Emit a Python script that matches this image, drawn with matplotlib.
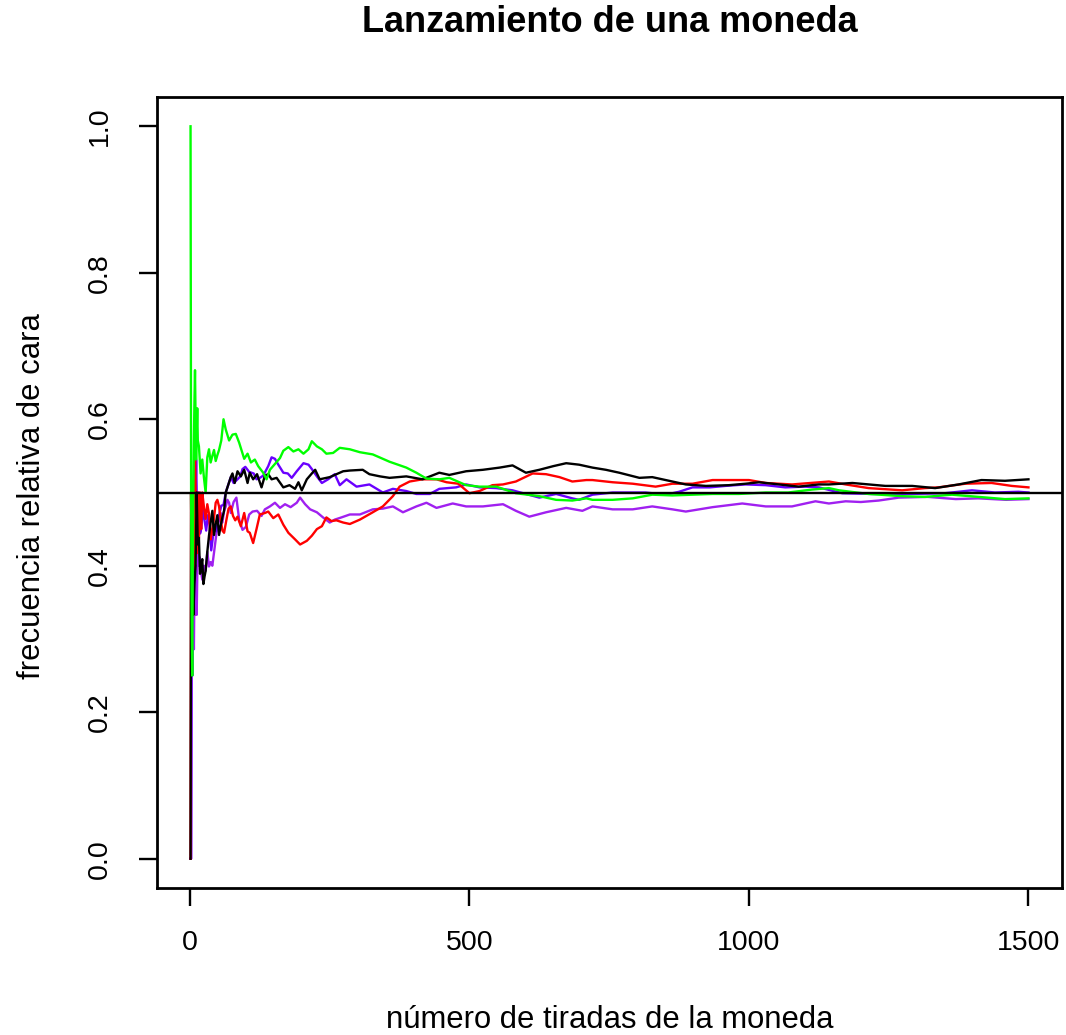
import matplotlib
matplotlib.use("Agg")
import matplotlib.pyplot as plt

plt.rcParams['font.family'] = ['Liberation Sans', 'DejaVu Sans']

# valores (tirada, frecuencia relativa de cara)
negro_x = [1, 2, 3, 4, 5, 6, 8, 10, 12, 14, 16, 18, 20, 22, 24, 26, 28, 31, 34, 37, 40, 43, 46, 49, 52, 55, 58, 61, 64, 67,
           70, 73, 76, 80, 85, 91, 97, 103, 107, 113, 120, 128, 134, 140, 146, 155, 167, 178, 188, 194, 200, 209, 218, 224,
           232, 250, 262, 274, 286, 309, 321, 340, 357, 387, 416, 446, 464, 494, 524, 554, 577, 601, 625, 650, 673, 696,
           720, 744, 768, 804, 827, 863, 887, 923, 964, 994, 1018, 1054, 1089, 1125, 1143, 1185, 1244, 1292, 1333, 1375,
           1416, 1458, 1500]
negro_y = [0.0, 0.5, 0.333, 0.5, 0.4, 0.333, 0.375, 0.4, 0.5, 0.429, 0.438, 0.389, 0.4, 0.409, 0.375, 0.385, 0.393, 0.419,
           0.441, 0.459, 0.475, 0.442, 0.457, 0.469, 0.442, 0.455, 0.466, 0.475, 0.5, 0.507, 0.514, 0.521, 0.526, 0.513,
           0.529, 0.522, 0.531, 0.513, 0.527, 0.518, 0.525, 0.507, 0.523, 0.525, 0.518, 0.52, 0.507, 0.51, 0.505, 0.514,
           0.503, 0.518, 0.526, 0.531, 0.518, 0.521, 0.525, 0.529, 0.530, 0.531, 0.525, 0.522, 0.520, 0.522, 0.518, 0.527,
           0.524, 0.529, 0.531, 0.534, 0.537, 0.527, 0.531, 0.536, 0.540, 0.538, 0.534, 0.531, 0.527, 0.520, 0.521, 0.515,
           0.511, 0.509, 0.510, 0.512, 0.514, 0.511, 0.508, 0.511, 0.511, 0.513, 0.509, 0.509, 0.506, 0.511, 0.517, 0.516,
           0.518]

rojo_x = [1, 2, 3, 4, 5, 6, 7, 8, 9, 10, 11, 12, 13, 14, 15, 16, 18, 20, 22, 25, 28, 31, 34, 37, 40, 43, 46, 49, 52, 55,
          58, 61, 65, 69, 73, 77, 81, 85, 91, 97, 103, 107, 113, 119, 125, 134, 140, 149, 158, 167, 176, 188, 197, 209,
          218, 227, 236, 244, 253, 262, 274, 286, 304, 327, 345, 363, 375, 393, 416, 441, 459, 480, 500, 518, 541, 560,
          583, 613, 637, 661, 684, 709, 720, 756, 792, 833, 863, 899, 935, 970, 1000, 1030, 1077, 1110, 1143, 1173, 1214,
          1274, 1315, 1339, 1387, 1434, 1470, 1500]
rojo_y = [0.0, 0.5, 0.333, 0.5, 0.4, 0.333, 0.429, 0.5, 0.556, 0.5, 0.455, 0.417, 0.462, 0.5, 0.467, 0.438, 0.5, 0.45,
          0.5, 0.48, 0.464, 0.484, 0.471, 0.436, 0.45, 0.465, 0.486, 0.49, 0.481, 0.463, 0.448, 0.445, 0.462, 0.478, 0.481,
          0.468, 0.462, 0.467, 0.454, 0.472, 0.447, 0.445, 0.431, 0.45, 0.47, 0.472, 0.474, 0.465, 0.47, 0.456, 0.445,
          0.436, 0.429, 0.434, 0.441, 0.45, 0.454, 0.466, 0.461, 0.462, 0.459, 0.457, 0.463, 0.473, 0.481, 0.495, 0.508,
          0.515, 0.518, 0.518, 0.514, 0.512, 0.499, 0.502, 0.510, 0.511, 0.515, 0.526, 0.525, 0.521, 0.515, 0.517, 0.517,
          0.514, 0.512, 0.508, 0.512, 0.512, 0.517, 0.517, 0.517, 0.513, 0.511, 0.513, 0.515, 0.511, 0.506, 0.503, 0.506,
          0.507, 0.512, 0.513, 0.509, 0.507]

verde_x = [1, 2, 3, 4, 5, 6, 7, 8, 9, 10, 11, 12, 13, 14, 16, 19, 22, 25, 28, 31, 34, 37, 40, 43, 46, 49, 52, 56, 60, 64,
           70, 76, 82, 88, 97, 103, 109, 116, 122, 131, 137, 143, 152, 161, 167, 176, 185, 194, 203, 212, 218, 227, 236,
           244, 256, 268, 286, 304, 327, 357, 387, 405, 423, 446, 464, 494, 518, 548, 583, 625, 655, 684, 709, 720, 756,
           792, 827, 863, 899, 935, 982, 1030, 1070, 1113, 1143, 1161, 1214, 1274, 1315, 1363, 1411, 1458, 1500]
verde_y = [1.0, 0.5, 0.333, 0.25, 0.4, 0.5, 0.571, 0.625, 0.667, 0.6, 0.545, 0.583, 0.615, 0.571, 0.563, 0.526, 0.545,
           0.52, 0.5, 0.548, 0.559, 0.541, 0.55, 0.558, 0.543, 0.551, 0.558, 0.571, 0.600, 0.586, 0.571, 0.579, 0.58,
           0.568, 0.546, 0.553, 0.541, 0.545, 0.536, 0.527, 0.518, 0.531, 0.539, 0.547, 0.557, 0.562, 0.556, 0.559, 0.553,
           0.559, 0.570, 0.563, 0.559, 0.553, 0.554, 0.561, 0.559, 0.555, 0.552, 0.542, 0.534, 0.527, 0.519, 0.518, 0.52,
           0.51, 0.508, 0.508, 0.499, 0.495, 0.490, 0.489, 0.492, 0.490, 0.490, 0.492, 0.497, 0.496, 0.497, 0.498, 0.498,
           0.500, 0.500, 0.504, 0.506, 0.503, 0.498, 0.495, 0.494, 0.497, 0.494, 0.491, 0.492]

azul_x = [1, 2, 3, 4, 5, 6, 7, 8, 9, 10, 11, 12, 13, 14, 16, 18, 20, 23, 26, 29, 32, 35, 38, 41, 44, 47, 50, 53, 56, 60,
          64, 67, 70, 73, 78, 85, 90, 94, 99, 106, 110, 114, 119, 125, 131, 140, 146, 152, 158, 167, 175, 182, 191, 203,
          212, 218, 227, 236, 247, 259, 268, 280, 298, 321, 345, 363, 387, 405, 429, 446, 476, 494, 518, 548, 577, 601,
          625, 655, 684, 696, 720, 756, 815, 851, 875, 899, 930, 958, 994, 1030, 1065, 1100, 1125, 1167, 1220, 1290, 1350,
          1399, 1440, 1482, 1500]
azul_y = [0.0, 0.0, 0.333, 0.25, 0.4, 0.5, 0.429, 0.5, 0.556, 0.5, 0.545, 0.5, 0.462, 0.5, 0.5, 0.444, 0.45, 0.478, 0.462,
          0.448, 0.469, 0.457, 0.421, 0.439, 0.455, 0.447, 0.46, 0.472, 0.482, 0.483, 0.5, 0.507, 0.514, 0.521, 0.513,
          0.518, 0.522, 0.532, 0.535, 0.528, 0.527, 0.526, 0.518, 0.52, 0.523, 0.536, 0.548, 0.546, 0.538, 0.527, 0.526,
          0.52, 0.529, 0.54, 0.538, 0.532, 0.522, 0.513, 0.518, 0.525, 0.51, 0.518, 0.508, 0.511, 0.5, 0.505, 0.502, 0.498,
          0.498, 0.505, 0.507, 0.511, 0.507, 0.506, 0.503, 0.498, 0.493, 0.498, 0.492, 0.490, 0.497, 0.500, 0.500, 0.497,
          0.501, 0.507, 0.507, 0.509, 0.511, 0.510, 0.507, 0.508, 0.507, 0.499, 0.498, 0.498, 0.499, 0.503, 0.500, 0.501,
          0.500]

morado_x = [1, 2, 3, 4, 5, 6, 7, 8, 9, 10, 11, 12, 13, 14, 15, 17, 19, 22, 25, 28, 31, 34, 37, 40, 43, 46, 49, 52, 55, 58,
            61, 64, 67, 70, 73, 78, 83, 88, 94, 100, 106, 112, 120, 128, 134, 143, 152, 161, 170, 180, 191, 197, 206, 215,
            227, 238, 250, 259, 271, 286, 304, 327, 345, 363, 381, 405, 423, 441, 470, 494, 524, 560, 583, 607, 637, 673,
            702, 720, 756, 792, 827, 863, 887, 935, 988, 1030, 1077, 1119, 1143, 1173, 1200, 1232, 1268, 1320, 1370,
            1410, 1460, 1500]
morado_y = [0.0, 0.0, 0.333, 0.25, 0.4, 0.333, 0.286, 0.375, 0.333, 0.4, 0.364, 0.333, 0.385, 0.429, 0.4, 0.412, 0.395,
            0.381, 0.4, 0.393, 0.419, 0.399, 0.405, 0.4, 0.418, 0.436, 0.454, 0.462, 0.472, 0.459, 0.475, 0.481, 0.49,
            0.486, 0.472, 0.487, 0.493, 0.463, 0.449, 0.453, 0.47, 0.474, 0.475, 0.468, 0.477, 0.481, 0.486, 0.479, 0.484,
            0.48, 0.486, 0.493, 0.484, 0.477, 0.473, 0.466, 0.459, 0.463, 0.466, 0.47, 0.47, 0.477, 0.478, 0.481, 0.473,
            0.481, 0.486, 0.479, 0.485, 0.481, 0.481, 0.484, 0.475, 0.467, 0.473, 0.479, 0.475, 0.481, 0.477, 0.477, 0.481,
            0.477, 0.474, 0.480, 0.485, 0.481, 0.481, 0.488, 0.485, 0.488, 0.487, 0.489, 0.493, 0.494, 0.491, 0.492, 0.490,
            0.491]

xticks = [0, 500, 1000, 1500]
yticks = [0.0, 0.2, 0.4, 0.6, 0.8, 1.0]

fig = plt.figure(figsize=(10.66, 10.35), dpi=100)
ax = fig.add_axes([157 / 1066, 1 - 888 / 1035, 905 / 1066, 791 / 1035])

lw = 1.7
ax.plot(morado_x, morado_y, color='#A020F0', lw=lw)
ax.plot(azul_x, azul_y, color='#6A00FF', lw=lw)
ax.plot(rojo_x, rojo_y, color='#FF0000', lw=lw)
ax.plot(negro_x, negro_y, color='black', lw=lw)
ax.plot(verde_x, verde_y, color='#00FF00', lw=lw)
ax.axhline(0.5, color='black', lw=lw)

# limites estilo R (4% extra)
ax.set_xlim(-59, 1560)
ax.set_ylim(-0.04, 1.04)

ax.set_xticks(xticks)
ax.set_xticklabels([str(t) for t in xticks])
ax.set_yticks(yticks)
ax.set_yticklabels(['%.1f' % t for t in yticks], rotation=90, va='center')
ax.tick_params(direction='out', length=13, width=1.7, labelsize=20.5)
ax.tick_params(axis='x', pad=17)
ax.tick_params(axis='y', pad=19)

for s in ax.spines.values():
    s.set_linewidth(2)

fig.text(609.5 / 1066, 1 - 22 / 1035, 'Lanzamiento de una moneda', ha='center', va='center',
         fontsize=26, fontweight='bold')
fig.text(609.5 / 1066, 1 - 1020 / 1035, 'número de tiradas de la moneda', ha='center', va='center', fontsize=22.3)
fig.text(32 / 1066, 1 - 496 / 1035, 'frecuencia relativa de cara', ha='center', va='center', fontsize=22.3,
         rotation=90)

fig.savefig('out.png', dpi=100)
